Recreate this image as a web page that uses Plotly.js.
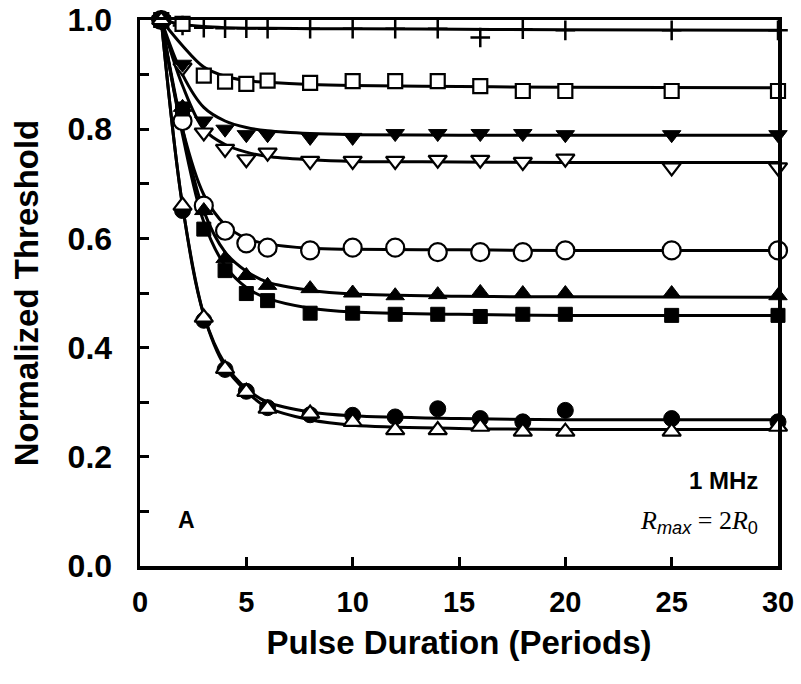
<!DOCTYPE html>
<html>
<head>
<meta charset="utf-8">
<script src="https://cdn.plot.ly/plotly-3.0.1.min.js"></script>
<style>html,body{margin:0;padding:0;background:#fff;}#chart{width:801px;height:684px;}</style>
</head>
<body>
<div id="chart"></div>
<script>
// Pulse durations (periods) where data were measured
const durations = [1, 2, 3, 4, 5, 6, 8, 10, 12, 14, 16, 18, 20, 25, 30];

// Measured normalized thresholds, one array per series
const plusData        = [1.0, 0.990, 0.986, 0.985, 0.985, 0.984, 0.984, 0.984, 0.984, 0.984, 0.968, 0.983, 0.981, 0.981, 0.981];
const openSquareData  = [1.0, 0.993, 0.898, 0.887, 0.883, 0.889, 0.885, 0.888, 0.888, 0.888, 0.879, 0.870, 0.870, 0.870, 0.870];
const filledDownData  = [1.0, 0.919, 0.815, 0.800, 0.790, 0.790, 0.785, 0.785, 0.792, 0.792, 0.792, 0.792, 0.790, 0.790, 0.790];
const openDownData    = [1.0, 0.913, 0.794, 0.764, 0.745, 0.757, 0.742, 0.742, 0.742, 0.744, 0.744, 0.740, 0.746, 0.730, 0.730];
const openCircleData  = [1.0, 0.815, 0.660, 0.614, 0.591, 0.583, 0.578, 0.583, 0.583, 0.575, 0.575, 0.575, 0.578, 0.578, 0.578];
const filledUpData    = [1.0, 0.840, 0.651, 0.563, 0.532, 0.514, 0.508, 0.500, 0.495, 0.497, 0.501, 0.499, 0.499, 0.499, 0.495];
const filledSquareData= [1.0, 0.837, 0.617, 0.541, 0.499, 0.486, 0.463, 0.463, 0.461, 0.461, 0.457, 0.461, 0.461, 0.459, 0.459];
const filledCircleData= [1.0, 0.651, 0.450, 0.360, 0.320, 0.290, 0.277, 0.276, 0.273, 0.288, 0.270, 0.264, 0.285, 0.270, 0.264];
const openUpData      = [1.0, 0.660, 0.455, 0.361, 0.319, 0.288, 0.279, 0.264, 0.249, 0.249, 0.255, 0.246, 0.246, 0.246, 0.255];

// Fitted curves at these durations
const fitDurations = [1, 2, 3, 4, 5, 6, 8, 10, 15, 20, 30];
const plusFit         = [1.0, 0.992, 0.988, 0.986, 0.985, 0.985, 0.984, 0.984, 0.983, 0.982, 0.981];
const openSquareFit   = [1.0, 0.953, 0.914, 0.897, 0.889, 0.886, 0.882, 0.880, 0.878, 0.877, 0.876];
const filledDownFit   = [1.0, 0.900, 0.840, 0.815, 0.803, 0.797, 0.792, 0.790, 0.789, 0.789, 0.789];
const openDownFit     = [1.0, 0.880, 0.800, 0.772, 0.758, 0.750, 0.744, 0.741, 0.740, 0.739, 0.739];
const openCircleFit   = [1.0, 0.800, 0.680, 0.625, 0.600, 0.590, 0.582, 0.580, 0.579, 0.578, 0.578];
const filledUpFit     = [1.0, 0.800, 0.650, 0.575, 0.540, 0.520, 0.505, 0.498, 0.494, 0.493, 0.492];
const filledSquareFit = [1.0, 0.790, 0.630, 0.550, 0.510, 0.490, 0.472, 0.465, 0.461, 0.459, 0.459];
const filledCircleFit = [1.0, 0.660, 0.460, 0.370, 0.325, 0.300, 0.282, 0.275, 0.270, 0.268, 0.268];
const openUpFit       = [1.0, 0.660, 0.460, 0.365, 0.320, 0.290, 0.268, 0.258, 0.252, 0.250, 0.250];

// Axis tick labels
const xTickVals = [0, 5, 10, 15, 20, 25, 30];
const xTickText = ['0', '5', '10', '15', '20', '25', '30'];
const yTickVals = [0, 0.2, 0.4, 0.6, 0.8, 1.0];
const yTickText = ['0.0', '0.2', '0.4', '0.6', '0.8', '1.0'];

const FONT = 'Arial, "Liberation Sans", sans-serif';
const SERIF = "'Liberation Serif','Times New Roman',serif";

const series = [
  {data: plusData,         fit: plusFit,         symbol: 'cross-thin',    fill: 'black', size: 14, lw: 2.5},
  {data: openSquareData,   fit: openSquareFit,   symbol: 'square',        fill: 'white', size: 14, lw: 2.2},
  {data: openDownData,     fit: openDownFit,     symbol: 'triangle-down', fill: 'white', size: 16, lw: 2.2},
  {data: filledDownData,   fit: filledDownFit,   symbol: 'triangle-down', fill: 'black', size: 16, lw: 1},
  {data: openCircleData,   fit: openCircleFit,   symbol: 'circle',        fill: 'white', size: 18, lw: 2.2},
  {data: filledSquareData, fit: filledSquareFit, symbol: 'square',        fill: 'black', size: 14, lw: 1},
  {data: filledUpData,     fit: filledUpFit,     symbol: 'triangle-up',   fill: 'black', size: 16, lw: 1},
  {data: filledCircleData, fit: filledCircleFit, symbol: 'circle',        fill: 'black', size: 16, lw: 1},
  {data: openUpData,       fit: openUpFit,       symbol: 'triangle-up',   fill: 'white', size: 16, lw: 2.2}
];

const traces = [];
series.forEach(s => {
  traces.push({
    x: fitDurations, y: s.fit, type: 'scatter', mode: 'lines',
    line: {color: 'black', width: 3, shape: 'spline', smoothing: 1},
    hoverinfo: 'skip', cliponaxis: false, showlegend: false
  });
});
series.forEach(s => {
  traces.push({
    x: durations, y: s.data, type: 'scatter', mode: 'markers',
    marker: {symbol: s.symbol, size: s.size, color: s.fill,
             line: {color: 'black', width: s.lw}},
    cliponaxis: false, showlegend: false
  });
});

const layout = {
  width: 801, height: 684,
  margin: {l: 140, r: 23, t: 20, b: 118},
  paper_bgcolor: 'white', plot_bgcolor: 'white',
  font: {family: FONT, color: 'black'},
  showlegend: false,
  xaxis: {
    range: [0, 30], tickvals: xTickVals, ticktext: xTickText,
    ticks: 'inside', ticklen: 9, tickwidth: 3, tickcolor: 'black',
    showline: true, linewidth: 3.5, linecolor: 'black', mirror: true,
    showgrid: false, zeroline: false,
    tickfont: {family: FONT, size: 29, weight: 'bold'},
    ticklabelstandoff: 8,
    title: {text: 'Pulse Duration (Periods)', font: {family: FONT, size: 33, weight: 'bold'}, standoff: 14}
  },
  yaxis: {
    range: [0, 1.0], tickvals: yTickVals, ticktext: yTickText,
    ticks: 'inside', ticklen: 9, tickwidth: 3, tickcolor: 'black',
    minor: {dtick: 0.1, ticks: 'inside', ticklen: 9, tickwidth: 3, tickcolor: 'black', showgrid: false},
    showline: true, linewidth: 3.5, linecolor: 'black', mirror: true,
    showgrid: false, zeroline: false,
    tickfont: {family: FONT, size: 32, weight: 'bold'},
    ticklabelstandoff: 18,
    title: {text: 'Normalized Threshold', font: {family: FONT, size: 33, weight: 'bold'}, standoff: 20}
  },
  annotations: [
    {xref: 'paper', yref: 'paper', x: 0.056, y: 0.084, xanchor: 'left', yanchor: 'middle',
     text: 'A', showarrow: false, font: {family: FONT, size: 23, weight: 'bold'}},
    {xref: 'paper', yref: 'paper', x: 0.972, y: 0.157, xanchor: 'right', yanchor: 'middle',
     text: '1 MHz', showarrow: false, font: {family: FONT, size: 24, weight: 'bold'}},
    {xref: 'paper', yref: 'paper', x: 0.972, y: 0.081, xanchor: 'right', yanchor: 'middle',
     text: '<span style="font-family:' + SERIF + ';font-style:italic">R</span><sub><i>max</i></sub><span style="font-family:' + SERIF + '"> = 2<i>R</i></span><sub>0</sub>',
     showarrow: false, font: {family: FONT, size: 26}}
  ]
};

Plotly.newPlot('chart', traces, layout, {staticPlot: true, displayModeBar: false});
</script>
</body>
</html>
